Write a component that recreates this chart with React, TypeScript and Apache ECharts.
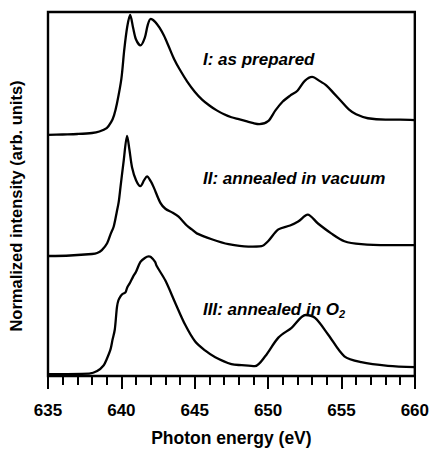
import React, { useEffect, useRef } from "react";
import * as echarts from "echarts";

// Photon energy (eV) sample points for each spectrum
const energyI = [635.0, 636.0, 637.0, 638.0, 638.5, 639.0, 639.3, 639.5, 639.7, 640.0, 640.2, 640.4, 640.6, 640.8, 641.0, 641.3, 641.6, 641.8, 642.0, 642.3, 642.6, 642.9, 643.2, 643.6, 644.0, 644.5, 645.0, 645.5, 646.0, 646.5, 647.0, 647.5, 648.0, 648.5, 649.0, 649.4, 650.0, 650.5, 651.0, 651.5, 652.0, 652.5, 653.0, 653.5, 654.0, 654.5, 655.0, 655.5, 656.0, 656.8, 658.0, 659.0, 660.0];
const intensityI = [24.5, 24.55, 24.6, 24.7, 24.85, 25.2, 25.8, 26.5, 27.7, 30.2, 33.2, 35.5, 36.7, 35.4, 34.2, 33.6, 34.4, 35.7, 36.3, 36.0, 35.4, 34.6, 33.6, 32.2, 31.1, 29.9, 28.9, 28.1, 27.5, 27.0, 26.6, 26.3, 26.1, 25.9, 25.7, 25.6, 25.9, 27.0, 27.9, 28.5, 29.0, 30.0, 30.4, 30.0, 29.5, 28.7, 27.9, 27.1, 26.6, 26.2, 26.05, 26.05, 26.0];

const energyII = [635.0, 636.5, 638.0, 638.35, 638.67, 639.03, 639.26, 639.48, 639.69, 639.82, 639.94, 640.16, 640.39, 640.55, 640.73, 641.0, 641.3, 641.55, 641.75, 642.0, 642.2, 642.66, 643.0, 643.5, 643.9, 644.46, 644.8, 645.14, 646.16, 647.3, 648.65, 649.56, 650.0, 650.7, 651.5, 652.05, 652.7, 653.4, 654.3, 655.2, 656.35, 658.17, 660.0];
const intensityII = [12.2, 12.25, 12.4, 12.5, 12.8, 13.5, 14.4, 15.2, 16.7, 17.7, 19.2, 21.9, 24.4, 23.0, 21.2, 19.9, 19.3, 19.9, 20.3, 19.8, 19.2, 17.6, 17.0, 16.6, 16.2, 15.3, 14.9, 14.5, 13.9, 13.4, 13.15, 13.2, 13.7, 14.9, 15.3, 15.7, 16.4, 15.5, 14.5, 13.7, 13.4, 13.3, 13.3];

const energyIII = [635.0, 637.8, 638.35, 638.8, 639.0, 639.26, 639.4, 639.55, 639.7, 639.8, 639.94, 640.05, 640.28, 640.4, 640.6, 640.8, 641.0, 641.3, 641.6, 641.86, 642.0, 642.3, 642.4, 643.0, 643.68, 644.35, 645.03, 645.7, 646.4, 647.5, 648.2, 649.1, 649.8, 650.7, 651.6, 652.55, 653.2, 654.1, 655.2, 656.35, 658.17, 660.0];
const intensityIII = [0.2, 0.25, 0.5, 1.1, 1.7, 2.7, 3.7, 4.7, 7.0, 7.7, 8.1, 8.3, 8.5, 9.0, 9.5, 10.1, 10.6, 11.6, 12.0, 12.15, 12.1, 11.6, 11.2, 9.7, 7.4, 5.2, 3.5, 2.6, 1.9, 1.2, 1.1, 1.0, 2.0, 3.9, 4.9, 6.2, 5.9, 4.2, 2.0, 1.4, 1.03, 0.9];

const seriesLabels = ["I: as prepared", "II: annealed in vacuum", "III: annealed in O"];
const xTicks = [635, 640, 645, 650, 655, 660];
const xTitle = "Photon energy (eV)";
const yTitle = "Normalized intensity (arb. units)";

const FONT = "'Liberation Sans', Arial, Helvetica, sans-serif";

const zip = (xs: number[], ys: number[]) => xs.map((x, i) => [x, ys[i]]);

export default function App() {
  const ref = useRef<HTMLDivElement>(null);
  useEffect(() => {
    if (!ref.current) return;
    const chart = echarts.init(ref.current, undefined, { renderer: "svg" });
    const lineStyle = { color: "#000", width: 2.3 };
    const mk = (name: string, xs: number[], ys: number[]) => ({
      type: "line",
      name,
      data: zip(xs, ys),
      showSymbol: false,
      smooth: 0.3,
      lineStyle,
      itemStyle: { color: "#000" },
      silent: true,
    });
    const labelFont = `italic bold 17px ${FONT}`;
    chart.setOption({
      animation: false,
      backgroundColor: "#fff",
      grid: {
        left: 48,
        top: 12,
        width: 369,
        height: 370,
        show: true,
        borderColor: "#000",
        borderWidth: 2.4,
        backgroundColor: "transparent",
      },
      xAxis: {
        type: "value",
        min: xTicks[0],
        max: xTicks[xTicks.length - 1],
        interval: 5,
        offset: 3,
        axisLine: { show: false },
        axisTick: { show: true, inside: false, length: 13, lineStyle: { color: "#000", width: 2 } },
        minorTick: { show: true, splitNumber: 5, length: 9, lineStyle: { color: "#000", width: 2 } },
        splitLine: { show: false },
        axisLabel: { color: "#000", fontSize: 17, fontWeight: "bold", fontFamily: FONT, margin: 23 },
        name: xTitle,
        nameLocation: "middle",
        nameGap: 50,
        nameTextStyle: { color: "#000", fontSize: 17.5, fontWeight: "bold", fontFamily: FONT },
      },
      yAxis: {
        type: "value",
        min: 0,
        max: 37,
        axisLine: { show: false },
        axisTick: { show: false },
        axisLabel: { show: false },
        splitLine: { show: false },
      },
      series: [
        mk(seriesLabels[0], energyI, intensityI),
        mk(seriesLabels[1], energyII, intensityII),
        mk(seriesLabels[2], energyIII, intensityIII),
      ],
      graphic: [
        {
          type: "text",
          x: 16,
          y: 206,
          rotation: Math.PI / 2,
          style: {
            text: yTitle,
            font: `bold 16.5px ${FONT}`,
            fill: "#000",
            align: "center",
            verticalAlign: "middle",
          },
        },
        {
          type: "text",
          x: 203,
          y: 59,
          style: { text: seriesLabels[0], font: labelFont, fill: "#000", align: "left", verticalAlign: "middle" },
        },
        {
          type: "text",
          x: 203,
          y: 178,
          style: { text: seriesLabels[1], font: labelFont, fill: "#000", align: "left", verticalAlign: "middle" },
        },
        {
          type: "text",
          x: 203,
          y: 309,
          style: {
            text: `${seriesLabels[2]}{sub|2}`,
            font: labelFont,
            fill: "#000",
            align: "left",
            verticalAlign: "middle",
            rich: {
              sub: { font: `italic bold 11px ${FONT}`, fill: "#000", padding: [9, 0, 0, 0] },
            },
          },
        },
      ],
    });
    return () => chart.dispose();
  }, []);
  return (
    <div
      ref={ref}
      style={{ position: "fixed", left: 0, top: 0, width: 432, height: 452, background: "#fff" }}
    />
  );
}
